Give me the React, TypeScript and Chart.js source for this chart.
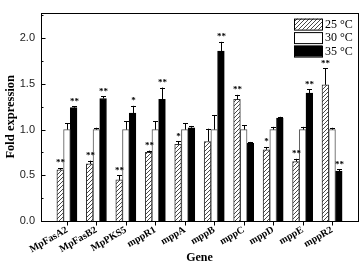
import React, { useEffect, useRef } from "react";
import { Chart, registerables } from "chart.js";

Chart.register(...registerables);

const genes = ["MpFasA2", "MpFasB2", "MpPKS5", "mppR1", "mppA", "mppB", "mppC", "mppD", "mppE", "mppR2"];
const seriesLabels = ["25 °C", "30 °C", "35 °C"];
const v25 = [0.56, 0.625, 0.45, 0.75, 0.84, 0.87, 1.33, 0.78, 0.65, 1.49];
const e25 = [0.02, 0.035, 0.05, 0.02, 0.03, 0.14, 0.05, 0.03, 0.03, 0.18];
const v30 = [1, 1, 1, 1, 1, 1, 1, 1, 1, 1];
const e30 = [0.07, 0.02, 0.09, 0.09, 0.07, 0.16, 0.05, 0.03, 0.03, 0.02];
const v35 = [1.24, 1.34, 1.18, 1.33, 1.02, 1.86, 0.85, 1.125, 1.4, 0.545];
const e35 = [0.015, 0.025, 0.08, 0.13, 0.02, 0.1, 0.015, 0.015, 0.04, 0.02];
const stars25 = ["**", "**", "**", "**", "*", "", "**", "*", "**", "**"];
const stars30 = ["", "", "", "", "", "", "", "", "", ""];
const stars35 = ["**", "**", "*", "**", "", "**", "", "", "**", "**"];
const yTicks = [0, 0.5, 1.0, 1.5, 2.0];

const values = [v25, v30, v35];
const errors = [e25, e30, e35];
const stars = [stars25, stars30, stars35];

function makeHatch(): CanvasPattern | string {
  const c = document.createElement("canvas");
  c.width = 4;
  c.height = 4;
  const g = c.getContext("2d");
  if (!g) return "#fff";
  g.fillStyle = "#fff";
  g.fillRect(0, 0, 4, 4);
  g.strokeStyle = "#333";
  g.lineWidth = 0.9;
  g.beginPath();
  g.moveTo(0, 4);
  g.lineTo(4, 0);
  g.moveTo(-1, 1);
  g.lineTo(1, -1);
  g.moveTo(3, 5);
  g.lineTo(5, 3);
  g.stroke();
  const p = g.createPattern(c, "repeat");
  return p || "#fff";
}

const overlay = {
  id: "overlay",
  afterDatasetsDraw(chart: any) {
    const ctx = chart.ctx;
    const ys = chart.scales.y;
    ctx.save();
    ctx.strokeStyle = "#000";
    ctx.lineWidth = 1;
    ctx.fillStyle = "#000";
    ctx.font = "bold 9px 'Liberation Serif', serif";
    ctx.textAlign = "center";
    ctx.textBaseline = "bottom";
    for (let d = 0; d < 3; d++) {
      const meta = chart.getDatasetMeta(d);
      meta.data.forEach((bar: any, i: number) => {
        const x = Math.round(bar.x) + 0.5;
        const top = ys.getPixelForValue(values[d][i] + errors[d][i]);
        ctx.beginPath();
        ctx.moveTo(x, bar.y);
        ctx.lineTo(x, top);
        ctx.moveTo(x - 2.5, Math.round(top) + 0.5);
        ctx.lineTo(x + 2.5, Math.round(top) + 0.5);
        ctx.stroke();
        if (stars[d][i]) {
          ctx.fillText(stars[d][i], x, top - 0.5);
        }
      });
    }
    ctx.restore();
  },
  afterDraw(chart: any) {
    const ctx = chart.ctx;
    const a = chart.chartArea;
    const ys = chart.scales.y;
    const xs = chart.scales.x;
    ctx.save();
    ctx.strokeStyle = "#000";
    ctx.lineWidth = 1;
    ctx.strokeRect(Math.round(a.left) + 0.5, Math.round(a.top) + 0.5, Math.round(a.right - a.left), Math.round(a.bottom - a.top));
    ctx.beginPath();
    const x0 = Math.round(a.left) + 0.5;
    for (let v = 0; v <= 2.25; v += 0.25) {
      const y = Math.round(ys.getPixelForValue(v)) + 0.5;
      const major = Math.abs(v * 2 - Math.round(v * 2)) < 1e-6;
      ctx.moveTo(x0, y);
      ctx.lineTo(x0 + (major ? 4 : 2), y);
    }
    const yb = Math.round(a.bottom) + 0.5;
    genes.forEach((_, i) => {
      const x = Math.round(xs.getPixelForValue(i)) + 0.5;
      ctx.moveTo(x, yb);
      ctx.lineTo(x, yb + 4);
    });
    ctx.stroke();

    // legend
    const ds = chart.data.datasets;
    const sx = a.right - 64;
    ctx.font = "12px 'Liberation Serif', serif";
    ctx.textAlign = "left";
    ctx.textBaseline = "middle";
    ds.forEach((dset: any, k: number) => {
      const ty = a.top + 6 + k * 13.5;
      ctx.fillStyle = dset.backgroundColor;
      ctx.fillRect(sx, ty, 28, 11);
      ctx.strokeStyle = "#000";
      ctx.strokeRect(sx + 0.5, ty + 0.5, 28, 11);
      ctx.fillStyle = "#000";
      ctx.fillText(dset.label, sx + 31, ty + 6);
    });
    ctx.restore();
  },
};

export default function App() {
  const ref = useRef<HTMLCanvasElement | null>(null);
  useEffect(() => {
    document.body.style.margin = "0";
    if (!ref.current) return;
    const hatch = makeHatch();
    const colors: any[] = [hatch, "#ffffff", "#000000"];
    const borders = ["#333", "#555", "#000"];
    const chart = new Chart(ref.current, {
      type: "bar",
      data: {
        datasets: values.map((vals, d) => ({
          label: seriesLabels[d],
          data: vals.map((v, i) => ({ x: i, y: v })),
          backgroundColor: colors[d],
          borderColor: borders[d],
          borderWidth: 1,
          barThickness: 6.7,
        })),
      },
      options: {
        animation: false,
        responsive: false,
        maintainAspectRatio: false,
        events: [],
        layout: { padding: { top: 2, right: 2, left: 0, bottom: 0 } },
        plugins: { legend: { display: false }, tooltip: { enabled: false } },
        scales: {
          x: {
            type: "linear",
            min: -0.88,
            max: 9.88,
            offset: false,
            grid: { display: false, drawTicks: false },
            border: { display: false },
            afterBuildTicks: (axis: any) => {
              axis.ticks = genes.map((_, i) => ({ value: i }));
            },
            afterFit: (axis: any) => {
              axis.height = 47;
            },
            ticks: {
              autoSkip: false,
              minRotation: 30,
              maxRotation: 30,
              padding: 3,
              color: "#000",
              font: { family: "'Liberation Serif', serif", size: 10, weight: "bold" },
              callback: (v: any) => genes[Number(v)] ?? "",
            },
            title: {
              display: true,
              text: "Gene",
              color: "#000",
              font: { family: "'Liberation Serif', serif", size: 12, weight: "bold" },
              padding: { top: 0, bottom: 3 },
            },
          },
          y: {
            min: 0,
            max: 2.28,
            grid: { display: false, drawTicks: false },
            border: { display: false },
            afterBuildTicks: (axis: any) => {
              axis.ticks = yTicks.map((v) => ({ value: v }));
            },
            afterFit: (axis: any) => {
              axis.width = 41;
            },
            ticks: {
              padding: 6,
              color: "#222",
              font: { family: "'Liberation Sans', sans-serif", size: 11 },
              callback: (v: any) => Number(v).toFixed(1),
            },
            title: {
              display: true,
              text: "Fold expression",
              color: "#000",
              font: { family: "'Liberation Serif', serif", size: 12.5, weight: "bold" },
              padding: { top: 3, bottom: 0 },
            },
          },
        },
      },
      plugins: [overlay],
    } as any);
    return () => chart.destroy();
  }, []);
  return (
    <div style={{ width: 360, height: 268 }}>
      <canvas ref={ref} width={360} height={268} style={{ width: 360, height: 268, display: "block" }} />
    </div>
  );
}
